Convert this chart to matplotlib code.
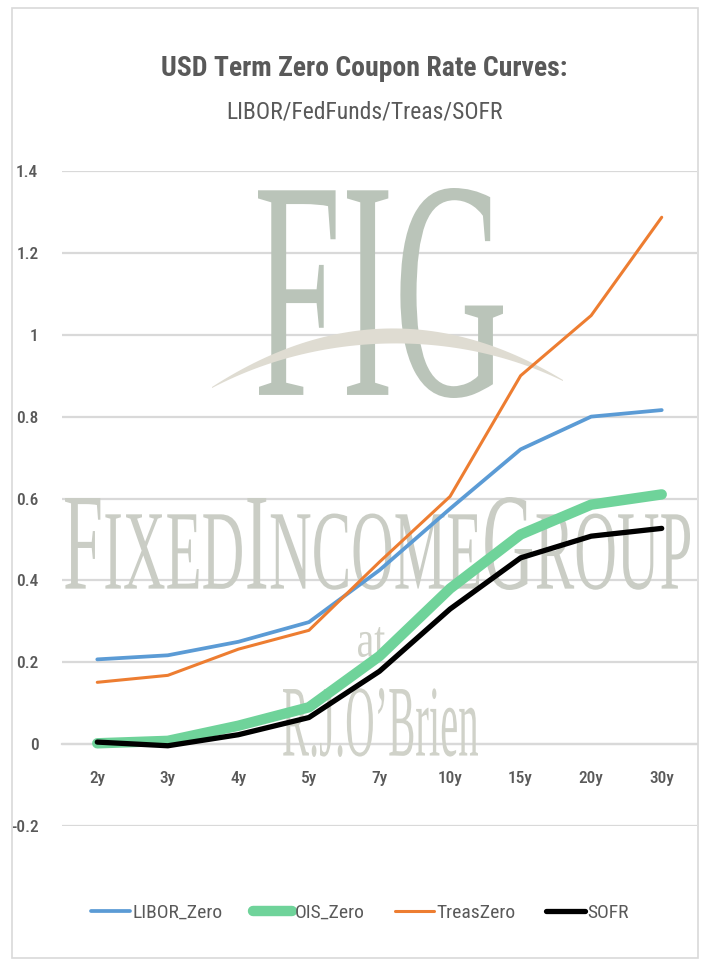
import numpy as np
import matplotlib
matplotlib.use("Agg")
import matplotlib.pyplot as plt
from matplotlib.textpath import TextPath
from matplotlib.font_manager import FontProperties
from matplotlib.patches import PathPatch, Rectangle, Polygon
from matplotlib.path import Path
from matplotlib.transforms import Affine2D

# ================= DATA =================
tenors = ['2y', '3y', '4y', '5y', '7y', '10y', '15y', '20y', '30y']
libor_zero = [0.207, 0.217, 0.250, 0.298, 0.425, 0.575, 0.720, 0.800, 0.816]
ois_zero = [0.002, 0.008, 0.045, 0.090, 0.215, 0.380, 0.512, 0.585, 0.610]
treas_zero = [0.151, 0.168, 0.232, 0.278, 0.445, 0.605, 0.900, 1.047, 1.287]
sofr = [0.005, -0.004, 0.023, 0.065, 0.178, 0.330, 0.455, 0.508, 0.527]

y_ticks = [-0.2, 0, 0.2, 0.4, 0.6, 0.8, 1, 1.2, 1.4]

W, H = 703, 960
FONT = ['Liberation Sans Narrow', 'Roboto Condensed', 'Lato', 'DejaVu Sans']
GREY = '#595959'

plt.rcParams['font.family'] = FONT

fig = plt.figure(figsize=(W / 100, H / 100), dpi=100)
fig.patch.set_facecolor('white')
ax = fig.add_axes([62 / W, 1 - 826 / H, (697 - 62) / W, (826 - 171) / H])

# outer chart border
fig.add_artist(Rectangle((12 / W, 1 - 958 / H), (698 - 12) / W, (958 - 8) / H,
                         transform=fig.transFigure, fill=False,
                         edgecolor='#d9d9d9', linewidth=1.2))


# ================= WATERMARK =================
def stamp(segments, box, color, family='Liberation Serif', zorder=1):
    # segments: (text, relative size); box in image pixels (x0, top, x1, bottom)
    fp = FontProperties(family=family)
    paths = []
    xoff = 0
    for s, rel in segments:
        tp = TextPath((xoff, 0), s, size=100 * rel, prop=fp)
        paths.append(tp)
        xoff = tp.get_extents().x1 + 4
    path = Path.make_compound_path(*paths)
    ext = path.get_extents()
    x0, top, x1, bottom = box
    trf = (Affine2D().translate(-ext.x0, -ext.y0)
           .scale((x1 - x0) / ext.width, (bottom - top) / ext.height)
           .translate(x0, H - bottom)
           .scale(1 / W, 1 / H)) + fig.transFigure
    patch = PathPatch(path, facecolor=color, edgecolor='none',
                      transform=trf, zorder=zorder, clip_on=False)
    ax.add_artist(patch)


stamp([('FIG', 1)], (258, 188, 503, 398), '#bac4b9')

# swoosh under FIG
t = np.linspace(0, 1, 60)
ax_x = 212 + (563 - 212) * t
upper = 387 - 4 * (387 - 332) * t * (1 - t) + (380 - 387) * t
thick = 14 * np.sin(np.pi * t) + 1
pts = np.vstack([np.column_stack([ax_x, upper]),
                 np.column_stack([ax_x[::-1], (upper + thick)[::-1]])])
pts_fig = np.column_stack([pts[:, 0] / W, 1 - pts[:, 1] / H])
ax.add_artist(Polygon(pts_fig, closed=True, transform=fig.transFigure,
                      facecolor='#dfdcd2', edgecolor='none', zorder=1.1,
                      clip_on=False))

stamp([('F', 1), ('IXED', 0.82), ('I', 1), ('NCOME', 0.82), ('G', 1), ('ROUP', 0.82)],
      (65, 497, 690, 590), '#cacdc5')
stamp([('at', 1)], (358, 627, 385, 657), '#d0d2c9')
stamp([('R.J.O\u2019Brien', 1)], (283, 688, 478, 757), '#d0d2c9')

# ================= PLOT =================
x = np.arange(len(tenors))
ax.plot(x, libor_zero, color='#5b9bd5', linewidth=2.7, label='LIBOR_Zero', zorder=3,
        solid_capstyle='round')
ax.plot(x, ois_zero, color='#6fd39a', linewidth=7.5, label='OIS_Zero', zorder=3,
        solid_capstyle='round')
ax.plot(x, treas_zero, color='#ed7d31', linewidth=2.2, label='TreasZero', zorder=3,
        solid_capstyle='round')
ax.plot(x, sofr, color='black', linewidth=3.8, label='SOFR', zorder=4,
        solid_capstyle='round')

ax.set_xlim(-0.5, len(tenors) - 0.5)
ax.set_ylim(-0.2, 1.4)
ax.set_yticks(y_ticks)
ax.set_yticklabels(['-0.2', '0', '0.2', '0.4', '0.6', '0.8', '1', '1.2', '1.4'])
ax.set_xticks(x)
ax.set_xticklabels(tenors)

ax.set_axisbelow(True)
ax.yaxis.grid(True, color='#d9d9d9', linewidth=1.6)
for side in ['top', 'right', 'left']:
    ax.spines[side].set_visible(False)
ax.spines['bottom'].set_position(('data', 0))
ax.spines['bottom'].set_color('#d9d9d9')
ax.spines['bottom'].set_linewidth(1.6)
ax.spines['bottom'].set_zorder(0.5)

ax.tick_params(axis='both', length=0, labelsize=12.5, labelcolor=GREY)
ax.tick_params(axis='x', pad=19)
ax.tick_params(axis='y', pad=17)
for lbl in ax.get_xticklabels() + ax.get_yticklabels():
    lbl.set_fontweight('medium')
ax.set_facecolor('none')

# ================= TITLES =================
fig.text(364 / W, 1 - 68 / H, 'USD Term Zero Coupon Rate Curves:', ha='center', va='center',
         fontsize=20, fontweight='bold', color=GREY)
fig.text(365 / W, 1 - 112 / H, 'LIBOR/FedFunds/Treas/SOFR', ha='center', va='center',
         fontsize=17, color=GREY)

fig.legend(loc='center', bbox_to_anchor=(360 / W, 1 - 913 / H), ncol=4, frameon=False,
           fontsize=14, labelcolor=GREY, handlelength=2.0, handletextpad=0.1,
           columnspacing=1.6)

fig.savefig('out.png', dpi=100, facecolor='white')
